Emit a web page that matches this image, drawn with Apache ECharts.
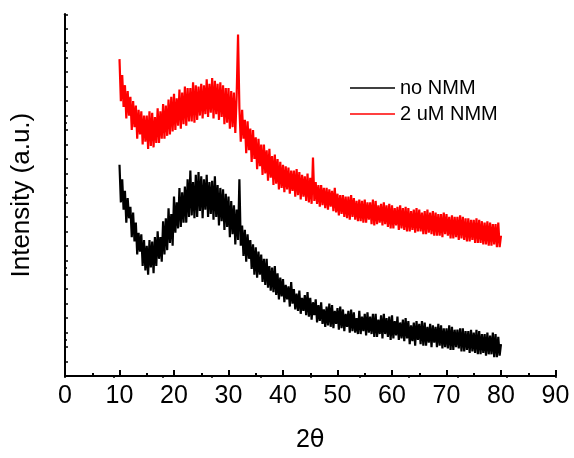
<!DOCTYPE html>
<html><head><meta charset="utf-8">
<script src="https://cdn.jsdelivr.net/npm/echarts@6/dist/echarts.min.js"></script>
<style>html,body{margin:0;padding:0;background:#fff}#c{width:574px;height:458px}</style>
</head><body><div id="c"></div>
<script>
// 2θ sampling of the scans (degrees)
const twoThetaStart = 10;
const twoThetaStep = 0.25;
const xTicks = [0,10,20,30,40,50,60,70,80,90];
const seriesNames = ['no NMM', '2 uM NMM'];

// Intensity (a.u.), one value per 0.25° from 10° to 80°
const noNMM = [
14.6,12.0,13.6,11.5, 12.8,10.6,12.3,10.9, 11.7,9.6,11.3,9.3, 10.6,8.4,9.9,8.6,
9.8,7.6,9.4,7.3, 9.0,7.0,9.4,7.5, 9.3,7.1,9.6,7.6, 10.0,8.1,9.6,7.9,
10.7,8.4,10.9,8.7, 11.6,9.2,11.2,9.0, 12.4,9.9,12.0,10.2, 13.0,10.3,12.7,10.6,
13.1,10.6,13.6,11.0, 14.2,11.1,13.4,10.9, 13.9,11.0,14.1,11.4, 13.8,10.9,13.6,11.5,
13.9,11.0,13.4,11.2, 13.5,10.8,13.8,11.0, 13.2,10.4,13.0,10.7, 12.9,10.1,12.6,10.3,
12.4,9.6,12.1,9.8, 11.8,9.1,11.5,9.4, 13.6,9.0,10.4,8.3, 10.1,7.9,9.8,8.1,
9.4,7.4,9.1,7.0, 8.9,6.8,8.6,7.0, 8.4,6.5,8.1,6.3, 8.1,6.1,7.6,5.9,
7.5,5.8,7.6,5.6, 7.1,5.3,6.8,5.5, 6.7,5.1,6.3,5.3, 6.2,4.8,6.5,5.0,
6.0,4.6,5.7,4.5, 5.9,4.3,5.4,4.5, 5.6,4.2,5.8,4.1, 5.4,3.9,5.1,4.2,
5.3,3.7,4.9,3.8, 5.1,3.6,4.6,3.4, 4.8,3.5,5.0,3.4, 4.9,3.3,4.5,3.6,
4.7,3.2,4.8,3.3, 4.6,3.1,4.3,3.4, 4.5,3.0,4.6,3.1, 4.4,3.0,4.0,2.9,
4.5,2.9,4.1,3.1, 4.3,2.8,4.4,3.0, 4.1,2.9,4.3,2.7, 4.3,2.7,3.9,2.9,
4.2,2.6,4.3,2.9, 4.0,2.7,4.1,2.5, 4.2,2.6,3.8,2.8, 4.1,2.5,3.7,2.6,
3.9,2.4,4.0,2.6, 3.8,2.2,3.5,2.4, 3.7,2.1,3.8,2.5, 3.6,2.2,3.8,2.1,
3.7,2.1,3.4,2.3, 3.6,2.0,3.5,2.3, 3.4,2.0,3.6,2.1, 3.5,1.9,3.3,2.0,
3.3,1.9,3.5,1.8, 3.4,1.8,3.2,2.0, 3.2,1.9,3.3,1.7, 3.3,1.7,3.1,1.8,
3.1,1.6,3.2,1.7, 3.0,1.6,3.2,1.5, 3.1,1.5,2.9,1.6, 2.9,1.4,3.0,1.5,
2.8,1.5,3.0,1.3, 2.9,1.3,2.7,1.4, 2.2
];
const withNMM = [
21.9,19.0,20.8,18.6, 20.1,17.8,19.7,18.0, 19.3,17.0,19.0,17.2, 18.7,16.4,18.4,16.7,
18.3,16.0,18.0,16.2, 18.0,15.7,18.3,15.9, 18.2,15.8,17.9,16.1, 18.5,16.1,18.3,16.4,
18.8,16.4,18.7,16.6, 19.1,16.7,19.3,16.9, 19.5,17.0,19.2,17.3, 19.8,17.1,19.6,17.4,
20.0,17.3,19.9,17.6, 19.9,17.6,20.3,17.5, 20.1,17.7,20.0,18.0, 20.2,17.8,20.1,18.1,
20.5,17.9,20.2,18.2, 20.6,17.8,20.4,18.1, 20.2,17.7,20.3,17.9, 20.1,17.4,19.9,17.5,
19.9,17.1,19.7,17.2, 19.6,16.8,19.4,23.6, 18.5,16.2,18.4,16.4, 17.7,15.4,17.6,15.6,
17.1,14.8,17.0,15.0, 16.5,14.3,16.4,14.5, 16.0,13.9,16.0,14.0, 15.6,13.5,15.7,13.7,
15.2,13.2,15.3,13.3, 15.0,12.9,14.8,13.0, 14.6,12.7,14.5,12.9, 14.4,12.6,14.2,12.8,
14.2,12.4,14.3,12.5, 14.1,12.2,13.9,12.4, 13.8,12.1,14.0,12.0, 13.7,11.9,15.1,12.1,
13.4,11.9,13.2,11.7, 13.2,11.8,13.0,11.6, 13.0,11.5,12.9,11.7, 12.8,11.4,13.0,11.3,
12.6,11.1,12.5,11.2, 12.5,11.0,12.4,10.9, 12.4,10.8,12.5,11.0, 12.3,10.8,12.1,10.7,
12.2,10.7,12.1,10.6, 12.2,10.6,12.0,10.8, 12.0,10.5,12.2,10.4, 12.1,10.5,11.8,10.6,
11.9,10.4,12.0,10.5, 11.8,10.3,11.9,10.2, 11.8,10.2,11.6,10.4, 11.7,10.1,11.8,10.2,
11.6,10.1,11.7,10.0, 11.6,10.0,11.4,10.1, 11.5,9.9,11.6,10.0, 11.5,10.0,11.3,9.8,
11.4,9.8,11.5,9.9, 11.3,9.8,11.4,9.7, 11.3,9.7,11.2,9.7, 11.2,9.6,11.3,9.8,
11.2,9.7,11.0,9.5, 11.1,9.5,11.0,9.6, 11.0,9.4,11.1,9.5, 11.0,9.4,10.9,9.3,
10.9,9.3,10.8,9.4, 10.8,9.2,10.9,9.2, 10.8,9.2,10.7,9.1, 10.6,9.1,10.7,9.0,
10.6,9.0,10.5,9.1, 10.5,8.9,10.6,8.9, 9.7
];

function pairs(arr){ return arr.map((v,i)=>[twoThetaStart + i*twoThetaStep, v]); }

const font = 'Liberation Sans, Arial, sans-serif';
const chart = echarts.init(document.getElementById('c'), null, {renderer:'canvas'});
chart.setOption({
  animation:false,
  backgroundColor:'#fff',
  grid:{left:65, right:18.5, top:14.3, bottom:79, containLabel:false},
  legend:{
    orient:'vertical', left:350, top:78, itemGap:6, padding:0,
    itemWidth:45, itemHeight:1.5, icon:'rect',
    data:[
      {name:seriesNames[0], itemStyle:{color:'#000'}},
      {name:seriesNames[1], itemStyle:{color:'#ff0000'}}
    ],
    textStyle:{fontFamily:font, fontSize:20, color:'#000', lineHeight:19}
  },
  xAxis:[{
    type:'value', min:xTicks[0], max:xTicks[xTicks.length-1], interval:10, position:'bottom',
    axisLine:{lineStyle:{color:'#000', width:2}},
    axisTick:{inside:true, length:6, lineStyle:{color:'#000', width:2}},
    minorTick:{show:true, splitNumber:2, length:3, lineStyle:{color:'#000', width:2}},
    axisLabel:{fontFamily:font, fontSize:25, color:'#000', margin:8},
    splitLine:{show:false},
    name:'2{t|θ}', nameLocation:'middle', nameGap:52,
    nameTextStyle:{fontFamily:font, fontSize:25, color:'#000',
      rich:{t:{fontFamily:'DejaVu Sans, sans-serif', fontSize:24, color:'#000'}}}
  },{
    type:'value', min:0, max:10, interval:1, position:'top',
    axisLine:{show:true, lineStyle:{color:'#000', width:2}},
    axisTick:{show:true, inside:true, length:2, lineStyle:{color:'#000', width:1.5}},
    axisLabel:{show:false}, splitLine:{show:false}
  }],
  yAxis:[{
    type:'value', min:0, max:25, interval:1, position:'left',
    axisLine:{show:true, lineStyle:{color:'#000', width:2}},
    axisTick:{show:true, inside:true, length:3, lineStyle:{color:'#000', width:1.5}},
    axisLabel:{show:false}, splitLine:{show:false},
    name:'Intensity (a.u.)', nameLocation:'middle', nameGap:30,
    nameTextStyle:{fontFamily:font, fontSize:26, color:'#000'}
  },{
    type:'value', min:0, max:10, interval:1, position:'right',
    axisLine:{show:true, lineStyle:{color:'#000', width:2}},
    axisTick:{show:true, inside:false, length:2, lineStyle:{color:'#000', width:1.5}},
    axisLabel:{show:false}, splitLine:{show:false}
  }],
  series:[
    {name:seriesNames[0], type:'line', data:pairs(noNMM), showSymbol:false, symbol:'none',
     lineStyle:{color:'#000', width:2.2, join:'miter', miterLimit:3}, itemStyle:{color:'#000'}},
    {name:seriesNames[1], type:'line', data:pairs(withNMM), showSymbol:false, symbol:'none',
     lineStyle:{color:'#ff0000', width:2.2, join:'miter', miterLimit:3}, itemStyle:{color:'#ff0000'}}
  ]
});
</script></body></html>
